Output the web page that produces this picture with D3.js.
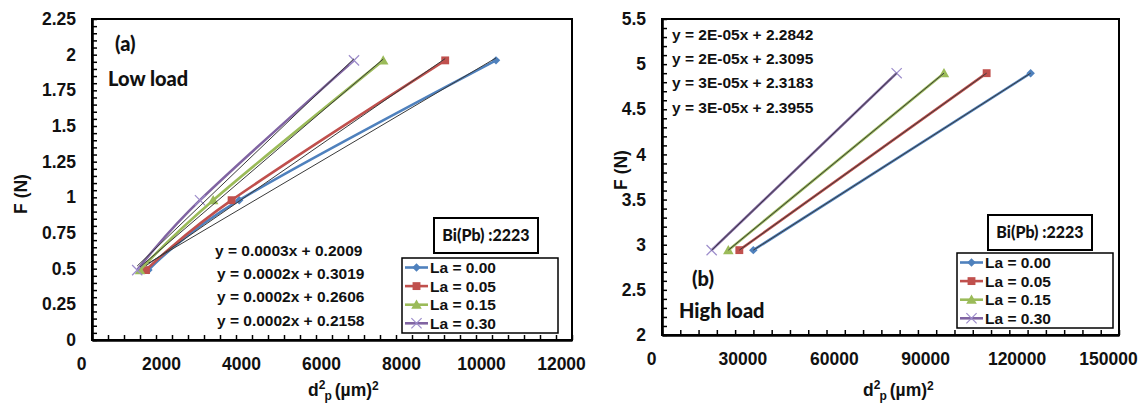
<!DOCTYPE html>
<html>
<head>
<meta charset="utf-8">
<script src="https://cdn.jsdelivr.net/npm/d3@7"></script>
<style>
  body { margin: 0; background: #fff; }
  svg text { font-family: "Liberation Sans", Arial, sans-serif; font-weight: bold; fill: #111; }
  svg text.cal { font-family: Lato, "Open Sans", sans-serif; font-weight: 900; }
</style>
</head>
<body>
<div id="chart"></div>
<script>
// Series shared by both panels
const seriesNames = ["La = 0.00", "La = 0.05", "La = 0.15", "La = 0.30"];
const seriesColors = ["#4F81BD", "#C0504D", "#9BBB59", "#8064A2"];
const markerTypes = ["diamond", "square", "triangle", "cross"];

// (a) Low load: F (N) against d2p (um2)
const lowLoadF = [0.49, 0.98, 1.96];
const lowLoadD2 = [
  [1410, 3680, 10100],
  [1350, 3490, 8830],
  [1200, 3030, 7280],
  [1130, 2700, 6550]
];
const lowEquations = ["y = 0.0003x + 0.2009", "y = 0.0002x + 0.3019", "y = 0.0002x + 0.2606", "y = 0.0002x + 0.2158"];
const lowXTicks = [0, 2000, 4000, 6000, 8000, 10000, 12000];
const lowYTicks = [0, 0.25, 0.5, 0.75, 1, 1.25, 1.5, 1.75, 2, 2.25];

// (b) High load
const highLoadF = [2.94, 4.9];
const highLoadD2 = [
  [29970, 121000],
  [25380, 106560],
  [21770, 92550],
  [16300, 77020]
];
const highEquations = ["y = 2E-05x + 2.2842", "y = 2E-05x + 2.3095", "y = 3E-05x + 2.3183", "y = 3E-05x + 2.3955"];
const highXTicks = [0, 30000, 60000, 90000, 120000, 150000];
const highYTicks = [2, 2.5, 3, 3.5, 4, 4.5, 5, 5.5];

const width = 1144, height = 403;

let svg = d3.select("#chart")
    .append("svg")
    .attr("width", width)
    .attr("height", height)
    .style("background", "#fff");

// least squares line through a series
function fitLine(xs, ys) {
    const mx = d3.mean(xs), my = d3.mean(ys);
    let num = 0, den = 0;
    xs.forEach((x, i) => { num += (x - mx) * (ys[i] - my); den += (x - mx) * (x - mx); });
    const m = num / den;
    return { m: m, b: my - m * mx };
}

function drawMarker(g, type, color, cx, cy) {
    if (type === "diamond") {
        g.append("path")
            .attr("d", d3.symbol(d3.symbolSquare, 36)())
            .attr("transform", `translate(${cx},${cy}) rotate(45)`)
            .attr("fill", color);
    } else if (type === "square") {
        g.append("path")
            .attr("d", d3.symbol(d3.symbolSquare, 62)())
            .attr("transform", `translate(${cx},${cy})`)
            .attr("fill", color);
    } else if (type === "triangle") {
        g.append("path")
            .attr("d", d3.symbol(d3.symbolTriangle, 48)())
            .attr("transform", `translate(${cx},${cy + 1})`)
            .attr("fill", color);
    } else {
        g.append("path")
            .attr("d", d3.symbol(d3.symbolTimes, 70)())
            .attr("transform", `translate(${cx},${cy})`)
            .attr("fill", "none")
            .attr("stroke", "#9D8DCB")
            .attr("stroke-width", 1.2);
    }
}

function drawPanel(p) {
    let xScale = d3.scaleLinear()
        .domain([p.xTicks[0], p.xTicks[p.xTicks.length - 1]])
        .range([p.left, p.right]);
    let yScale = d3.scaleLinear()
        .domain([p.yTicks[0], p.yTicks[p.yTicks.length - 1]])
        .range([p.bottom, p.top]);

    // minor tick positions between the labelled ticks
    const xStep = (p.xTicks[1] - p.xTicks[0]) / p.xSub;
    const xMinor = d3.range((p.xTicks.length - 1) * p.xSub + 1).map(i => p.xTicks[0] + i * xStep);
    const yStep = (p.yTicks[1] - p.yTicks[0]) / p.ySub;
    const yMinor = d3.range((p.yTicks.length - 1) * p.ySub + 1).map(i => p.yTicks[0] + i * yStep);

    // plot frame
    svg.append("rect")
        .attr("x", p.left)
        .attr("y", p.top)
        .attr("width", p.right - p.left)
        .attr("height", p.bottom - p.top)
        .attr("fill", "none")
        .attr("stroke", "#000")
        .attr("stroke-width", 2);

    let xAxis = svg.append("g")
        .attr("transform", `translate(0,${p.bottom})`)
        .call(d3.axisBottom(xScale)
            .tickValues(xMinor)
            .tickSizeInner(-5)
            .tickSizeOuter(0)
            .tickPadding(18)
            .tickFormat((d, i) => i % p.xSub === 0 ? String(p.xTicks[i / p.xSub]) : ""));
    xAxis.selectAll("text").attr("dx", -11).style("font-size", "17.5px");

    let yAxis = svg.append("g")
        .attr("transform", `translate(${p.left},0)`)
        .call(d3.axisLeft(yScale)
            .tickValues(yMinor)
            .tickSizeInner(-5)
            .tickSizeOuter(0)
            .tickPadding(16)
            .tickFormat((d, i) => i % p.ySub === 0 ? String(p.yTicks[i / p.ySub]) : ""));
    yAxis.selectAll("text").style("font-size", "17.5px");

    [xAxis, yAxis].forEach(a => {
        a.select(".domain").attr("stroke-width", 2.6);
        a.selectAll(".tick line").attr("stroke-width", 1.5);
    });

    // series lines
    const line = d3.line()
        .x(d => xScale(d[0]))
        .y(d => yScale(d[1]))
        .curve(p.smooth ? d3.curveCardinal : d3.curveLinear);

    p.d2.forEach((xs, s) => {
        const pts = xs.map((x, i) => [x, p.F[i]]);
        svg.append("path")
            .attr("d", line(pts))
            .attr("fill", "none")
            .attr("stroke", seriesColors[s])
            .attr("stroke-width", 2.6);
        let g = svg.append("g");
        pts.forEach(d => drawMarker(g, markerTypes[s], seriesColors[s], xScale(d[0]), yScale(d[1])));
    });

    // linear trendlines
    p.d2.forEach(xs => {
        const f = fitLine(xs, p.F);
        const x1 = d3.min(xs), x2 = d3.max(xs);
        svg.append("line")
            .attr("x1", xScale(x1))
            .attr("y1", yScale(f.m * x1 + f.b))
            .attr("x2", xScale(x2))
            .attr("y2", yScale(f.m * x2 + f.b))
            .attr("stroke", "#3a3a3a")
            .attr("stroke-width", 1);
    });

    // trendline equations
    svg.selectAll(null)
        .data(p.equations)
        .enter()
        .append("text")
        .attr("x", (d, i) => p.eqX + (i === 0 ? p.eqFirstDx : 0))
        .attr("y", (d, i) => p.eqY[i])
        .style("font-size", "15.5px")
        .text(d => d);

    // axis titles
    svg.append("text")
        .attr("transform", `translate(${p.yTitleX},${p.yTitleY}) rotate(-90)`)
        .style("text-anchor", "middle")
        .style("font-size", "17.5px")
        .text("F (N)");

    let xt = svg.append("text")
        .attr("x", p.xTitleX)
        .attr("y", p.xTitleY)
        .style("font-size", "17.5px");
    xt.append("tspan").text("d");
    xt.append("tspan").attr("dy", -7).style("font-size", "12px").text("2");
    xt.append("tspan").attr("dy", 11).attr("dx", -1).style("font-size", "12px").text("p");
    xt.append("tspan").attr("dy", -4).attr("dx", 3).text("(µm)");
    xt.append("tspan").attr("dy", -6).style("font-size", "12px").text("2");

    // panel labels
    svg.append("text").attr("class", "cal")
        .attr("x", p.tagX).attr("y", p.tagY)
        .style("font-size", "20px")
        .text(p.tag);
    svg.append("text").attr("class", "cal")
        .attr("x", p.loadX).attr("y", p.loadY)
        .style("font-size", "20px")
        .text(p.load);

    // compound box
    svg.append("rect")
        .attr("x", p.boxX).attr("y", p.boxY)
        .attr("width", 104).attr("height", 35)
        .attr("fill", "#fff")
        .attr("stroke", "#000")
        .attr("stroke-width", 2);
    svg.append("text").attr("class", "cal")
        .attr("x", p.boxX + 52).attr("y", p.boxY + 23)
        .style("text-anchor", "middle")
        .style("font-size", "16px")
        .text("Bi(Pb) :2223");

    // legend
    svg.append("rect")
        .attr("x", p.legX).attr("y", p.legY)
        .attr("width", 156).attr("height", 75)
        .attr("fill", "#fff")
        .attr("stroke", "#000")
        .attr("stroke-width", 1.5);

    const legend = svg.selectAll(null)
        .data(seriesNames)
        .enter().append("g")
        .attr("transform", (d, i) => `translate(${p.legX},${p.legY + 9.5 + i * 18.6})`);

    legend.append("line")
        .attr("x1", 3).attr("x2", 26)
        .attr("y1", 0).attr("y2", 0)
        .attr("stroke", (d, i) => seriesColors[i])
        .attr("stroke-width", 2.6);
    legend.each(function(d, i) {
        drawMarker(d3.select(this), markerTypes[i], seriesColors[i], 14.5, 0);
    });
    legend.append("text")
        .attr("x", 28)
        .attr("y", 5.5)
        .style("font-size", "15.5px")
        .text(d => d);
}

drawPanel({
    left: 92, right: 572, top: 19, bottom: 340,
    xTicks: lowXTicks, yTicks: lowYTicks, xSub: 5, ySub: 5,
    F: lowLoadF, d2: lowLoadD2, smooth: true,
    equations: lowEquations, eqX: 217, eqFirstDx: -2, eqY: [256, 279, 302, 326],
    yTitleX: 27, yTitleY: 194, xTitleX: 308, xTitleY: 396,
    tag: "(a)", tagX: 115, tagY: 51, load: "Low load", loadX: 108, loadY: 86,
    boxX: 434, boxY: 218, legX: 402, legY: 258
});

drawPanel({
    left: 662, right: 1119, top: 19, bottom: 335,
    xTicks: highXTicks, yTicks: highYTicks, xSub: 5, ySub: 5,
    F: highLoadF, d2: highLoadD2, smooth: false,
    equations: highEquations, eqX: 672, eqFirstDx: 0, eqY: [40, 64, 88, 113],
    yTitleX: 627, yTitleY: 170, xTitleX: 863, xTitleY: 396,
    tag: "(b)", tagX: 692, tagY: 286, load: "High load", loadX: 679, loadY: 318,
    boxX: 988, boxY: 215, legX: 957, legY: 253
});
</script>
</body>
</html>
